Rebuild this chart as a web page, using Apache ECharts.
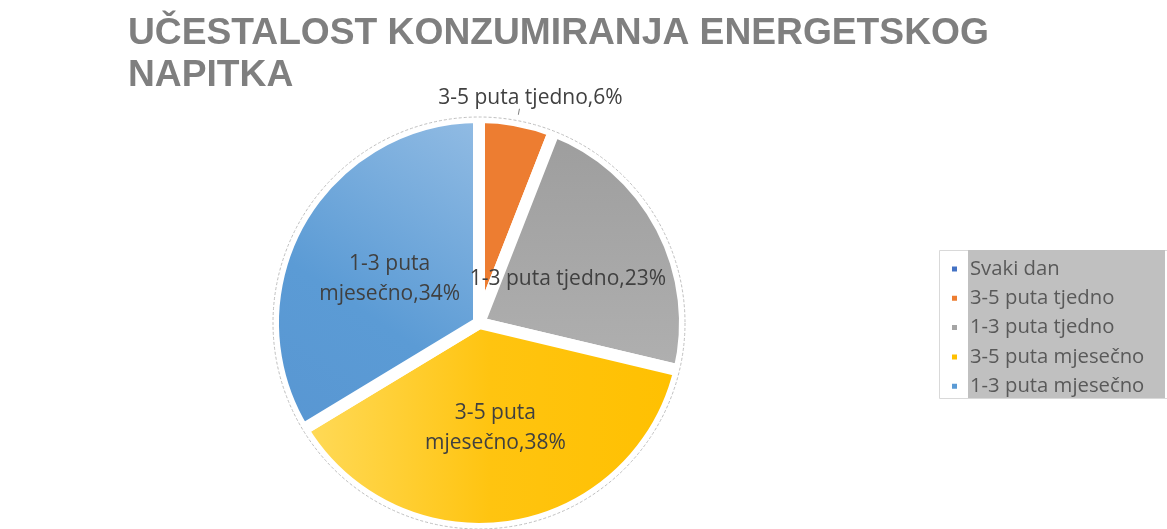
<!DOCTYPE html>
<html>
<head>
<meta charset="utf-8">
<script src="https://cdn.jsdelivr.net/npm/echarts@6/dist/echarts.min.js"></script>
<style>html,body{margin:0;padding:0;background:#fff;}#c{width:1167px;height:529px;}</style>
</head>
<body>
<div id="c"></div>
<script>
const titleText = 'UČESTALOST KONZUMIRANJA ENERGETSKOG\nNAPITKA';
const categories = ['Svaki dan', '3-5 puta tjedno', '1-3 puta tjedno', '3-5 puta mjesečno', '1-3 puta mjesečno'];
const values = [0, 6, 23, 38, 34];
const labelTexts = ['', '3-5 puta tjedno,6%', '1-3 puta tjedno,23%', '3-5 puta\nmjesečno,38%', '1-3 puta\nmjesečno,34%'];
const colors = ['#4472c4', '#ed7d31', '#a5a5a5', '#ffc000', '#5b9bd5'];

const fills = [
  colors[0],
  colors[1],
  new echarts.graphic.LinearGradient(0, 0, 0, 1, [{offset: 0, color: '#9d9d9d'}, {offset: 1, color: '#b0b0b0'}]),
  new echarts.graphic.LinearGradient(0, 0, 1, 0, [{offset: 0, color: '#ffdb5c'}, {offset: 0.5, color: '#ffc410'}, {offset: 1, color: '#ffc000'}]),
  new echarts.graphic.LinearGradient(1, 0, 0, 1, [{offset: 0, color: '#94bde4'}, {offset: 0.6, color: '#5b9bd5'}, {offset: 1, color: '#5896d2'}])
];

const chart = echarts.init(document.getElementById('c'), null, {renderer: 'canvas'});
const data = categories.map((name, i) => {
  const item = {name: name, value: values[i], itemStyle: {color: fills[i]}, label: {formatter: labelTexts[i]}};
  if (values[i] === 0) item.label = {show: false};
  if (i === 1) {
    item.label = {position: 'outside', formatter: labelTexts[i], distance: 2};
    item.labelLine = {show: true, length: 12, length2: 0, lineStyle: {color: '#7f7f7f', width: 1}};
  }
  return item;
});

chart.setOption({
  animation: false,
  title: {
    text: titleText,
    left: 123,
    top: 8,
    textStyle: {fontFamily: 'Liberation Sans', fontWeight: 'bold', fontSize: 37.2, color: '#7f7f7f', lineHeight: 42}
  },
  legend: {
    orient: 'vertical',
    left: 945,
    top: 254,
    itemWidth: 7,
    itemHeight: 7,
    itemGap: 9.3,
    icon: 'rect',
    data: categories.map((n, i) => ({name: n, itemStyle: {color: colors[i]}})),
    textStyle: {fontFamily: 'Open Sans', fontSize: 20.3, lineHeight: 20, color: '#595959', padding: [0, 0, 0, 7]}
  },
  graphic: [
    {type: 'rect', left: 939, top: 250, shape: {width: 228, height: 148}, style: {fill: '#ffffff', stroke: '#d9d9d9', lineWidth: 1}, z: -1},
    {type: 'rect', left: 968, top: 250, shape: {width: 197, height: 148}, style: {fill: '#c0c0c0'}, z: -1},
    {type: 'circle', shape: {cx: 479, cy: 323, r: 206}, style: {fill: 'none', stroke: '#c0c0c0', lineWidth: 1, lineDash: [3, 2]}, z: 10}
  ],
  series: [{
    type: 'pie',
    center: [479, 323],
    radius: [0, 206],
    startAngle: 90,
    clockwise: true,
    avoidLabelOverlap: false,
    itemStyle: {borderColor: '#ffffff', borderWidth: 12},
    label: {
      show: true,
      position: 'inner',
      fontFamily: 'Open Sans',
      fontSize: 21,
      color: '#404040',
      lineHeight: 30
    },
    labelLayout: function (p) {
      if (p.dataIndex === 1) return {align: 'center', verticalAlign: 'bottom', dx: 6, dy: 4};
      if (p.dataIndex === 2) return {dx: -5, dy: 5};
      if (p.dataIndex === 4) return {dx: 3, dy: 8};
      return {};
    },
    data: data
  }]
});
</script>
</body>
</html>
